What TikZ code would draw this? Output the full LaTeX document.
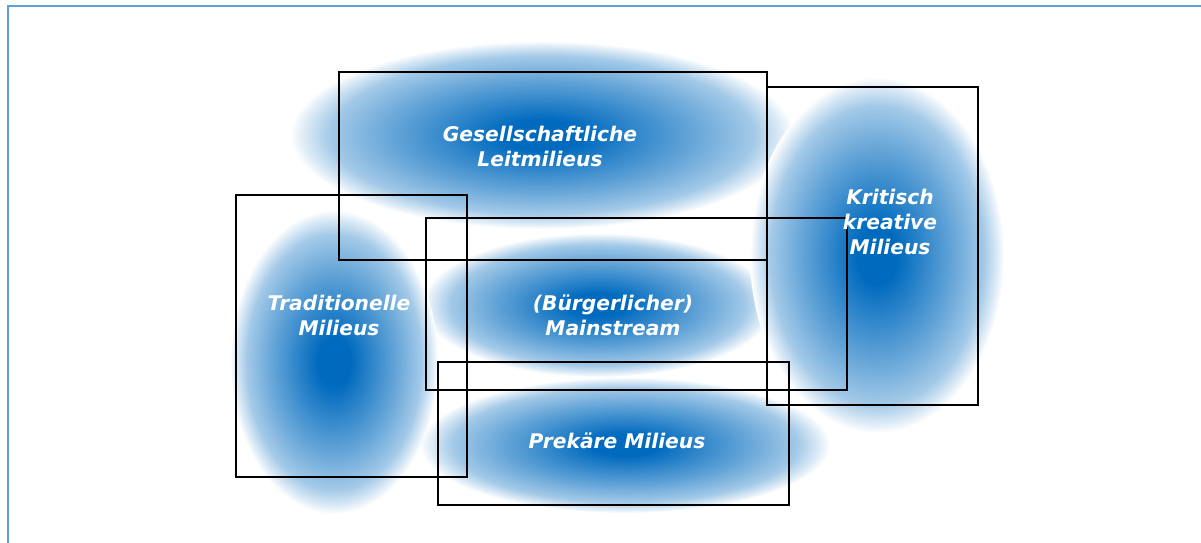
\documentclass[tikz,border=0pt]{standalone}
\usepackage{fontspec}
\newfontfamily\labelfont{DejaVu Sans}
\definecolor{milblue}{RGB}{0,106,190}
\definecolor{framblue}{RGB}{95,160,220}
\pgfdeclareradialshading{blob}{\pgfpoint{0bp}{0bp}}{color(0bp)=(milblue); color(4bp)=(milblue); color(15bp)=(milblue!60!white); color(21bp)=(milblue!36!white); color(23.8bp)=(milblue!12!white); color(25bp)=(white); color(50bp)=(white)}
\tikzset{
  blobshade/.style={shading=blob},
  box/.style={draw=black, line width=2.2pt},
  lbl/.style={text=white, font=\labelfont\bfseries\itshape\fontsize{20.2}{25}\selectfont, align=center, inner sep=0pt}
}
\begin{document}
\begin{tikzpicture}[x=1pt,y=-1pt]
\useasboundingbox (0,0) rectangle (1201,542);
\fill[white] (0,0) rectangle (1201,542);
\draw[framblue, line width=2pt] (7.5,1300) -- (7.5,6) -- (1300,6);
% blobs
\shade[blobshade] (542,135) ellipse [x radius=252pt, y radius=94pt];
\shade[blobshade] (598,305) ellipse [x radius=176pt, y radius=72pt];
\shade[blobshade] (877,255) ellipse [x radius=127pt, y radius=178pt];
\shade[blobshade] (625,445) ellipse [x radius=205pt, y radius=68pt];
\shade[blobshade] (334,362) ellipse [x radius=104pt, y radius=152pt];
% boxes
\draw[box] (339,72) rectangle (767,260);
\draw[box] (767,87) rectangle (978,405);
\draw[box] (236,195) rectangle (467,477);
\draw[box] (426,218) rectangle (847,390);
\draw[box] (438,362) rectangle (789,505);
% labels
\node[lbl] (leit) at (540,146) {Gesellschaftliche\\Leitmilieus};
\node[lbl] (krit) at (890,222) {Kritisch\\kreative\\Milieus};
\node[lbl] (trad) at (339,315) {Traditionelle\\Milieus};
\node[lbl] (main) at (613,315) {(Bürgerlicher)\\Mainstream};
\node[lbl] (prek) at (617,441) {Prekäre Milieus};
\end{tikzpicture}
\end{document}
